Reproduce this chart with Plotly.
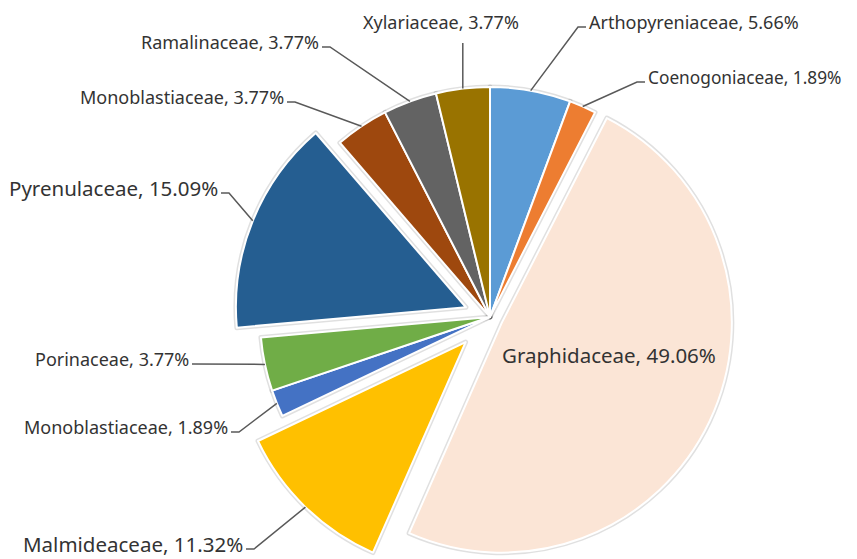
import math
import plotly.graph_objects as go

# ---- data ----
families = ["Arthopyreniaceae", "Coenogoniaceae", "Graphidaceae", "Malmideaceae",
            "Monoblastiaceae", "Porinaceae", "Pyrenulaceae", "Monoblastiaceae",
            "Ramalinaceae", "Xylariaceae"]
counts = [3, 1, 26, 6, 1, 2, 8, 2, 2, 2]
explode = [0, 0, 0.057, 0.152, 0, 0, 0.113, 0, 0, 0]
colors = ["#5B9BD5", "#ED7D31", "#FBE5D6", "#FFC000", "#4472C4", "#70AD47",
          "#255E91", "#9E480E", "#636363", "#997300"]

# ---- layout constants (screen pixels) ----
PAGE_OFFSET = 8          # default page margin around the figure
W, H = 857 - PAGE_OFFSET, 600
CX, CY, R = 490, 317, 230
# label placement: (anchor x, anchor y, side, font size)
label_pos = [
    (586, 27, "right", 18),
    (645, 82, "right", 17.3),
    (609, 355, "inside", 20.5),
    (246, 549, "left", 20.5),
    (231, 432, "left", 18),
    (192, 364, "left", 18),
    (221, 193, "left", 20.5),
    (287, 102, "left", 18),
    (322, 47, "left", 18),
    (462, 43, "top", 18),
]

total = sum(counts)
half = R * (1 + max(explode))


def px(x):
    return (x - PAGE_OFFSET) / W


def py(y):
    return 1 - (y - PAGE_OFFSET) / H


domain = dict(x=[px(CX - half), px(CX + half)], y=[py(CY + half), py(CY - half)])
labels = [f"{i}" for i in range(len(families))]

fig = go.Figure()
# soft shadow outline behind the slices
fig.add_trace(go.Pie(
    labels=labels, values=counts, sort=False, direction="clockwise", rotation=0,
    pull=explode, textinfo="none", hoverinfo="skip", showlegend=False,
    marker=dict(colors=["rgba(0,0,0,0)"] * len(counts),
                line=dict(color="rgba(0,0,0,0.12)", width=5)),
    domain=domain,
))
fig.add_trace(go.Pie(
    labels=labels,
    values=counts,
    hovertext=families,
    hoverinfo="text+percent",
    sort=False,
    direction="clockwise",
    rotation=0,
    pull=explode,
    marker=dict(colors=colors, line=dict(color="white", width=2)),
    textinfo="none",
    showlegend=False,
    domain=domain,
))

shapes = []
annotations = []
cum = 0
for name, v, pull, (ax, ay, side, fs) in zip(families, counts, explode, label_pos):
    mid = math.radians(360 * (cum + v / 2) / total)
    cum += v
    ux, uy = math.sin(mid), -math.cos(mid)
    sx = CX + pull * R * ux + R * ux
    sy = CY + pull * R * uy + R * uy
    text = f"{name}, {100 * v / total:.2f}%"
    font = dict(family="Noto Sans", size=fs, color="#333333")
    if side == "inside":
        annotations.append(dict(x=px(ax), y=py(ay), xref="paper", yref="paper",
                                text=text, showarrow=False, font=font,
                                xanchor="center", yanchor="middle"))
        continue
    if side == "top":
        path = f"M {px(sx)},{py(sy)} L {px(sx)},{py(ay)}"
        annotations.append(dict(x=px(ax - 21), y=py(ay - 21), xref="paper", yref="paper",
                                text=text, showarrow=False, font=font,
                                xanchor="center", yanchor="middle"))
    elif side == "right":
        path = f"M {px(sx)},{py(sy)} L {px(ax - 8)},{py(ay)} L {px(ax)},{py(ay)}"
        annotations.append(dict(x=px(ax + 1), y=py(ay - 5), xref="paper", yref="paper",
                                text=text, showarrow=False, font=font,
                                xanchor="left", yanchor="middle"))
    else:
        if abs(sy - ay) < 2:
            path = f"M {px(sx)},{py(sy)} L {px(ax)},{py(ay)}"
        else:
            path = f"M {px(sx)},{py(sy)} L {px(ax + 8)},{py(ay)} L {px(ax)},{py(ay)}"
        annotations.append(dict(x=px(ax - 1), y=py(ay - 5), xref="paper", yref="paper",
                                text=text, showarrow=False, font=font,
                                xanchor="right", yanchor="middle"))
    shapes.append(dict(type="path", path=path, xref="paper", yref="paper",
                       line=dict(color="#595959", width=1.5)))

fig.update_layout(
    width=W, height=H,
    margin=dict(l=0, r=0, t=0, b=0),
    paper_bgcolor="white",
    plot_bgcolor="white",
    shapes=shapes,
    annotations=annotations,
)

fig.write_html("out.html", config={"displayModeBar": False})
